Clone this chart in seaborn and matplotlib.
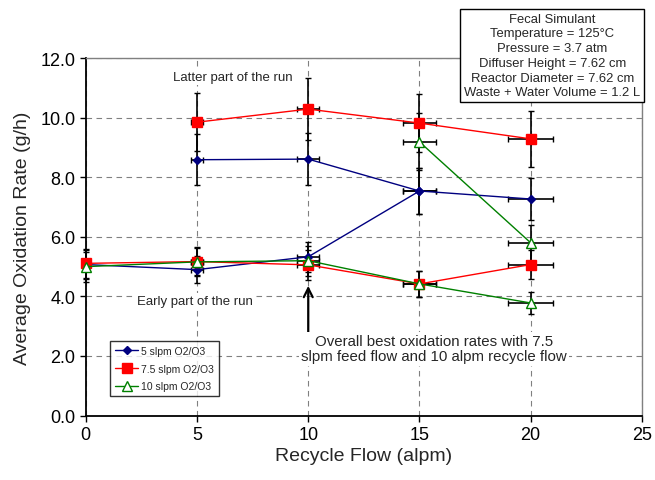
import matplotlib
import numpy as np
import pandas as pd
import seaborn as sns

matplotlib.use("Agg")
import matplotlib.pyplot as plt


sns.set_style("white")
plt.rcParams.update({
    "font.family": ["Liberation Sans", "DejaVu Sans"],
    "axes.linewidth": 1.0,
})

# recycle flow (alpm) for each run segment
FLOW_EARLY = [0, 5, 10, 15, 20]
FLOW_LATTER = [5, 10, 15, 20]

# 5 slpm O2/O3
RATE_5_EARLY = [5.07, 4.90, 5.33, 7.54]
ERR_5_EARLY = [0.50, 0.45, 0.50, 0.77]
RATE_5_LATTER = [8.59, 8.61, 7.54, 7.27]
ERR_5_LATTER = [0.85, 0.87, 0.77, 0.72]

# 7.5 slpm O2/O3
RATE_75_EARLY = [5.11, 5.17, 5.06, 4.42, 5.07]
ERR_75_EARLY = [0.48, 0.50, 0.50, 0.44, 0.48]
RATE_75_LATTER = [9.85, 10.29, 9.82, 9.29]
ERR_75_LATTER = [0.97, 1.03, 0.98, 0.93]

# 10 slpm O2/O3
RATE_10_EARLY = [5.00, 5.16, 5.20, 4.42, 3.78]
ERR_10_EARLY = [0.50, 0.45, 0.50, 0.44, 0.37]
RATE_10_LATTER = [9.19, 5.80]
ERR_10_LATTER = [0.96, 0.60]
FLOW_10_LATTER = [15, 20]

SERIES = ["5 slpm O2/O3", "7.5 slpm O2/O3", "10 slpm O2/O3"]
STYLE = {
    "5 slpm O2/O3": dict(color="#000080", marker="D", ms=4.5, mfc="#000080"),
    "7.5 slpm O2/O3": dict(color="#FF0000", marker="s", ms=7, mfc="#FF0000"),
    "10 slpm O2/O3": dict(color="#008000", marker="^", ms=6.5, mfc="white"),
}

INFO_TEXT = ("Fecal Simulant\nTemperature = 125\u00b0C\nPressure = 3.7 atm\n"
             "Diffuser Height = 7.62 cm\nReactor Diameter = 7.62 cm\n"
             "Waste + Water Volume = 1.2 L")


def build_frame() -> pd.DataFrame:
    parts = [
        ("5 slpm O2/O3", "early", FLOW_EARLY[:4], RATE_5_EARLY, ERR_5_EARLY),
        ("5 slpm O2/O3", "latter", FLOW_LATTER, RATE_5_LATTER, ERR_5_LATTER),
        ("7.5 slpm O2/O3", "early", FLOW_EARLY, RATE_75_EARLY, ERR_75_EARLY),
        ("7.5 slpm O2/O3", "latter", FLOW_LATTER, RATE_75_LATTER, ERR_75_LATTER),
        ("10 slpm O2/O3", "early", FLOW_EARLY, RATE_10_EARLY, ERR_10_EARLY),
        ("10 slpm O2/O3", "latter", FLOW_10_LATTER, RATE_10_LATTER, ERR_10_LATTER),
    ]
    rows = []
    for series, phase, flows, rates, errs in parts:
        for f, r, e in zip(flows, rates, errs):
            rows.append({"series": series, "phase": phase, "flow": f, "rate": r, "err": e})
    return pd.DataFrame(rows)


df = build_frame()
# horizontal error is 5 % of the recycle flow
df["xerr"] = df["flow"] * 0.05

fig = plt.figure(figsize=(6.55, 4.81), dpi=100)
ax = fig.add_axes([0.131, 0.134, 0.849, 0.743])

eb = ax.errorbar(df["flow"], df["rate"], yerr=df["err"], xerr=df["xerr"], fmt="none",
                 ecolor="black", elinewidth=1.2, capsize=2.5, capthick=1.0, zorder=3)
for art in eb.lines[1] + eb.lines[2]:
    art.set_clip_on(False)

for series in SERIES:
    st = STYLE[series]
    for phase in ["latter", "early"]:
        sub = df[(df["series"] == series) & (df["phase"] == phase)]
        sns.lineplot(data=sub, x="flow", y="rate", ax=ax, color=st["color"],
                     marker=st["marker"], markersize=st["ms"], markerfacecolor=st["mfc"],
                     markeredgecolor=st["color"], markeredgewidth=1.0, linewidth=1.0,
                     estimator=None, sort=False, zorder=4, clip_on=False,
                     label=series if phase == "latter" else None, legend=False)

ax.set_xlim(0, 25)
ax.set_ylim(0, 12)
ax.set_xticks(np.arange(0, 26, 5))
ax.set_yticks(np.arange(0, 12.1, 2))
ax.set_yticklabels([f"{v:.1f}" for v in np.arange(0, 12.1, 2)])
ax.tick_params(axis="both", labelsize=13, direction="out", length=4, width=1,
               left=True, bottom=True, colors="black")
ax.grid(True, color="#808080", linestyle=(0, (5, 4)), linewidth=0.8)
ax.set_axisbelow(True)
for side in ["top", "right"]:
    ax.spines[side].set_color("#808080")
for side in ["left", "bottom"]:
    ax.spines[side].set_color("black")
    ax.spines[side].set_linewidth(1.3)

ax.set_xlabel("Recycle Flow (alpm)", fontsize=14, labelpad=3)
ax.set_ylabel("Average Oxidation Rate (g/h)", fontsize=14, labelpad=7)

white_box = dict(boxstyle="square,pad=0.15", facecolor="white", edgecolor="none")
ax.text(6.6, 11.37, "Latter part of the run", ha="center", va="center", fontsize=9.5,
        bbox=white_box)
ax.text(4.9, 3.86, "Early part of the run", ha="center", va="center", fontsize=9.5,
        bbox=white_box)
ax.annotate("", xy=(10, 4.45), xytext=(10, 2.72),
            arrowprops=dict(arrowstyle="->", color="black", lw=1.6, mutation_scale=16))
ax.text(15.67, 2.24, "Overall best oxidation rates with 7.5\nslpm feed flow and 10 alpm recycle flow",
        ha="center", va="center", fontsize=10.8, linespacing=1.1, bbox=white_box)

fig.text(0.843, 0.8825, INFO_TEXT, ha="center", va="center", fontsize=9.4, linespacing=1.3,
         bbox=dict(boxstyle="square,pad=0.3", facecolor="white", edgecolor="black", linewidth=1))

leg = ax.legend(loc="lower left", bbox_to_anchor=(0.035, 0.04), fontsize=7.5, frameon=True,
                fancybox=False, edgecolor="black", handlelength=2.2, borderpad=0.45,
                labelspacing=0.75, handletextpad=0.3)
leg.get_frame().set_linewidth(1.0)

fig.savefig("out.png", dpi=100)
